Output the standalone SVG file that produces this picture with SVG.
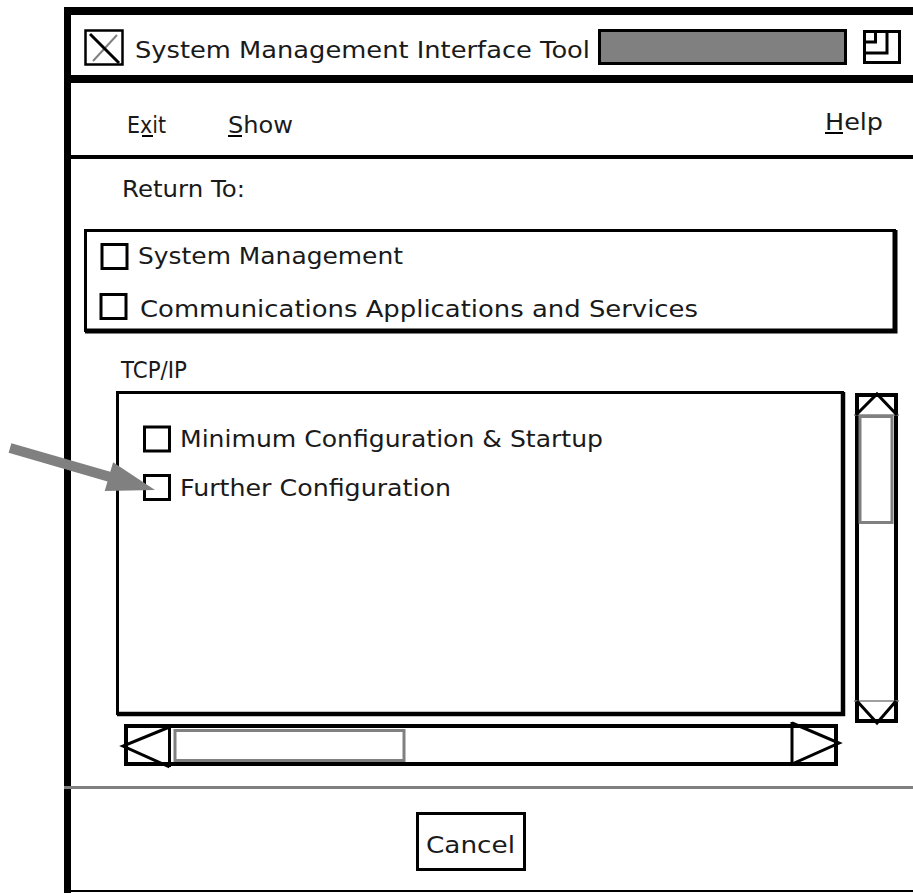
<svg xmlns="http://www.w3.org/2000/svg" width="913" height="893" viewBox="0 0 913 893">
<style>
text{font-family:"DejaVu Sans","Liberation Sans",Arial,sans-serif;font-size:23px;fill:#1a1a1a}
.blk{fill:none;stroke:#000;stroke-width:3}
.gry{fill:none;stroke:#808080;stroke-width:3}
.cb{fill:#fff;stroke:#000;stroke-width:3}
.ul{stroke:#000;stroke-width:2}
</style>
<rect width="913" height="893" fill="#fff"/>
<g id="frame">
<rect x="64" y="7" width="849" height="8" fill="#000"/>
<rect x="64" y="7" width="7" height="886" fill="#000"/>
<rect x="64" y="75" width="849" height="8" fill="#000"/>
<rect x="64" y="155" width="849" height="4" fill="#000"/>
<rect x="64" y="786" width="849" height="3" fill="#808080"/>
<rect x="64" y="890" width="849" height="2" fill="#000"/>
</g>
<g id="titlebar">
<rect x="85.5" y="30.5" width="37" height="34" fill="#fff" stroke="#000" stroke-width="2.5"/>
<line x1="117" y1="35" x2="93" y2="61" stroke="#808080" stroke-width="2"/>
<line x1="90" y1="34" x2="119" y2="63" stroke="#000" stroke-width="3"/>
<text x="135" y="58" textLength="455" lengthAdjust="spacingAndGlyphs">System Management Interface Tool</text>
<rect x="599.5" y="30.5" width="246" height="33" fill="#808080" stroke="#000" stroke-width="3"/>
<rect x="864.5" y="31.5" width="35" height="31" class="blk"/>
<polyline points="864,53 887,53 887,31" class="blk"/>
<polyline points="864,42 875.5,42 875.5,31" class="blk"/>
</g>
<g id="menubar">
<text x="127" y="133" textLength="39" lengthAdjust="spacingAndGlyphs">Exit</text>
<line x1="142" y1="136" x2="153" y2="136" class="ul"/>
<text x="228" y="133" textLength="65" lengthAdjust="spacingAndGlyphs">Show</text>
<line x1="228" y1="136" x2="242" y2="136" class="ul"/>
<text x="825" y="130" textLength="58" lengthAdjust="spacingAndGlyphs">Help</text>
<line x1="825" y1="133" x2="843" y2="133" class="ul"/>
</g>
<g id="return-to">
<text x="122" y="197" textLength="123" lengthAdjust="spacingAndGlyphs">Return To:</text>
<rect x="85.5" y="230.5" width="809" height="100" class="blk"/>
<polyline points="895,230 895,331 85,331" fill="none" stroke="#000" stroke-width="5"/>
<rect x="102" y="244.5" width="25" height="24" class="cb"/>
<text x="138" y="264" textLength="265" lengthAdjust="spacingAndGlyphs">System Management</text>
<rect x="101" y="294.5" width="25" height="24" class="cb"/>
<text x="140" y="317" textLength="558" lengthAdjust="spacingAndGlyphs">Communications Applications and Services</text>
</g>
<g id="tcpip">
<text x="121" y="378" textLength="66" lengthAdjust="spacingAndGlyphs">TCP/IP</text>
<rect x="117.5" y="392.5" width="725" height="321" class="blk"/>
<polyline points="843,392 843,714 117,714" fill="none" stroke="#000" stroke-width="4.5"/>
<rect x="144.5" y="427" width="25" height="24" class="cb"/>
<text x="180" y="447" textLength="423" lengthAdjust="spacingAndGlyphs">Minimum Configuration &amp; Startup</text>
<rect x="144.5" y="475.5" width="25" height="24" class="cb"/>
<text x="180" y="496" textLength="271" lengthAdjust="spacingAndGlyphs">Further Configuration</text>
</g>
<g id="vscroll">
<rect x="857" y="395" width="39" height="326" fill="#fff" stroke="#000" stroke-width="4"/>
<line x1="854" y1="415" x2="899" y2="415" stroke="#808080" stroke-width="1.5"/>
<polyline points="856,415 877,394 897,415" class="blk"/>
<rect x="860" y="416.5" width="32" height="106" class="gry"/>
<line x1="854" y1="701" x2="899" y2="701" stroke="#808080" stroke-width="1.5"/>
<polyline points="857,701 877,723 896,701" class="blk"/>
</g>
<g id="hscroll">
<rect x="126" y="726" width="710" height="38" fill="#fff" stroke="#000" stroke-width="4"/>
<rect x="175" y="730.5" width="229" height="30" class="gry"/>
<line x1="169.5" y1="727" x2="169.5" y2="767" class="blk"/>
<polyline points="169.5,727 123,746 169.5,767" class="blk"/>
<line x1="792" y1="722" x2="792" y2="764" class="blk"/>
<polyline points="792,723 839,743 792,764" class="blk"/>
</g>
<g id="cancel">
<rect x="417.5" y="813.5" width="107" height="56" fill="#fff" class="blk"/>
<text x="426" y="853" textLength="89" lengthAdjust="spacingAndGlyphs">Cancel</text>
</g>
<g id="connectors">
<polygon points="11.4,443.2 110.3,471.8 113.1,462.2 155,490 104.7,491 107.5,481.4 8.6,452.8" fill="#808080"/>
</g>
</svg>
